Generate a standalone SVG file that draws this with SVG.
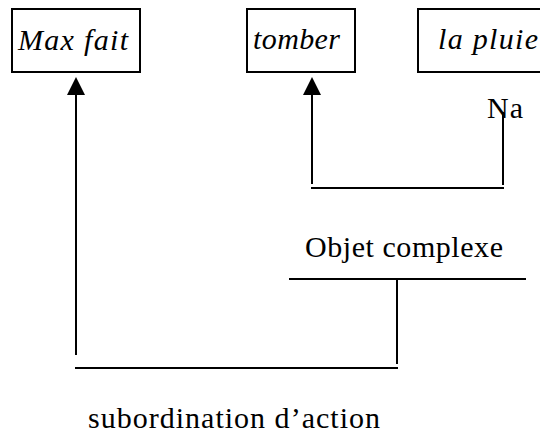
<svg xmlns="http://www.w3.org/2000/svg" width="540" height="433" viewBox="0 0 540 433" xml:space="preserve">
<style>
.box{fill:#fff;stroke:#000;stroke-width:2}
.ln{stroke:#000;stroke-width:2;fill:none}
.ah{fill:#000}
text{font-family:"Liberation Serif","DejaVu Serif",serif;font-size:30px;fill:#000}
.it{font-style:italic}
</style>
<rect width="540" height="433" fill="#fff"/>
<g id="node-maxfait">
<rect class="box" x="12" y="9" width="128" height="63"/>
<text class="it" x="18" y="50" textLength="110" lengthAdjust="spacing">Max  fait</text>
</g>
<g id="node-tomber">
<rect class="box" x="247" y="9" width="108" height="63"/>
<text class="it" x="253" y="49" textLength="87" lengthAdjust="spacing">tomber</text>
</g>
<g id="node-lapluie">
<rect class="box" x="418" y="9" width="140" height="63"/>
<text class="it" x="438" y="49" textLength="100" lengthAdjust="spacing">la  pluie</text>
</g>
<g id="label-na">
<text x="487" y="118" textLength="36" lengthAdjust="spacing">Na</text>
</g>
<g id="label-objet">
<text x="305" y="257" textLength="198" lengthAdjust="spacing">Objet  complexe</text>
</g>
<g id="label-subordination">
<text x="88" y="428" textLength="292" lengthAdjust="spacing">subordination  d’action</text>
</g>
<g id="connectors">
<line class="ln" x1="76" y1="94" x2="76" y2="355"/>
<polygon class="ah" points="76,77 67,95 85,95"/>
<line class="ln" x1="75" y1="368" x2="398" y2="368"/>
<line class="ln" x1="397" y1="279" x2="397" y2="364"/>
<line class="ln" x1="289" y1="279" x2="526" y2="279"/>
<line class="ln" x1="312" y1="94" x2="312" y2="184"/>
<polygon class="ah" points="312,77 303,95 321,95"/>
<line class="ln" x1="311" y1="188" x2="504" y2="188"/>
<line class="ln" x1="503" y1="112" x2="503" y2="185"/>
</g>
</svg>
